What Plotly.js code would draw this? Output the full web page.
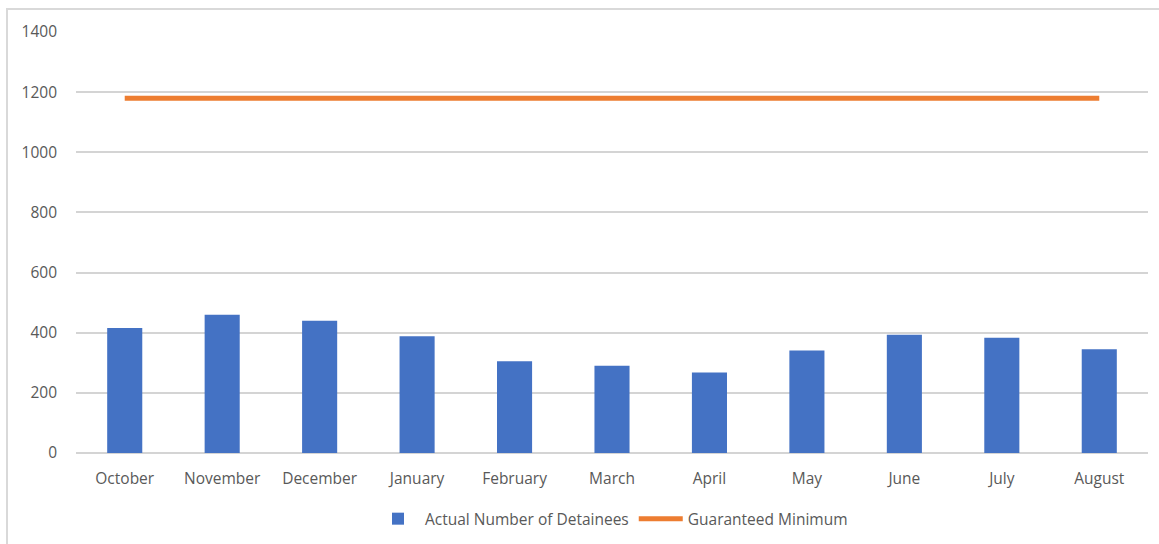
<!DOCTYPE html>
<html>
<head>
<meta charset="utf-8">
<script src="https://cdn.plot.ly/plotly-3.0.1.min.js"></script>
<style>html,body{margin:0;padding:0;background:#fff;}</style>
</head>
<body>
<div id="chart" style="width:1159px;height:544px;"></div>
<script>
const months = ["October","November","December","January","February","March","April","May","June","July","August"];
const detainees = [416, 460, 440, 388, 305, 290, 268, 341, 393, 383, 345];
const guaranteedMinimum = [1180, 1180, 1180, 1180, 1180, 1180, 1180, 1180, 1180, 1180, 1180];
const yTicks = [0, 200, 400, 600, 800, 1000, 1200, 1400];

const font = {family: "'Open Sans', 'Noto Sans', sans-serif", size: 15.5, color: "#595959"};

const data = [
  {type: "bar", name: "Actual Number of Detainees", x: months, y: detainees,
   marker: {color: "#4472C4"}},
  {type: "scatter", mode: "lines", name: "Guaranteed Minimum", x: months, y: guaranteedMinimum,
   line: {color: "#ED7D31", width: 5}}
];

const layout = {
  width: 1159, height: 544,
  margin: {l: 76, r: 11, t: 32, b: 91, autoexpand: false},
  paper_bgcolor: "#fff", plot_bgcolor: "#fff",
  font: font,
  bargap: 0.64,
  showlegend: true,
  legend: {orientation: "h", x: 0.5, xanchor: "center", y: -0.157, yanchor: "middle",
           font: font, itemwidth: 44, traceorder: "normal"},
  xaxis: {type: "category", showgrid: false, zeroline: false, showline: false, automargin: false,
          ticks: "", tickfont: font, ticklabelstandoff: 14, fixedrange: true},
  yaxis: {range: [0, 1400], tickvals: yTicks, ticktext: yTicks.map(String), automargin: false,
          showgrid: true, gridcolor: "#d4d4d4", gridwidth: 2,
          zeroline: true, zerolinecolor: "#d4d4d4", zerolinewidth: 2,
          showline: false, ticks: "", tickfont: font, ticklabelstandoff: 18, fixedrange: true},
  shapes: [{type: "rect", xref: "paper", yref: "paper",
            x0: -69/1072, x1: 1.2, y0: -2, y1: 1 + 23/421,
            line: {color: "#d9d9d9", width: 2}, fillcolor: "rgba(0,0,0,0)", layer: "below"}]
};

Plotly.newPlot("chart", data, layout, {displayModeBar: false, staticPlot: true});
</script>
</body>
</html>
